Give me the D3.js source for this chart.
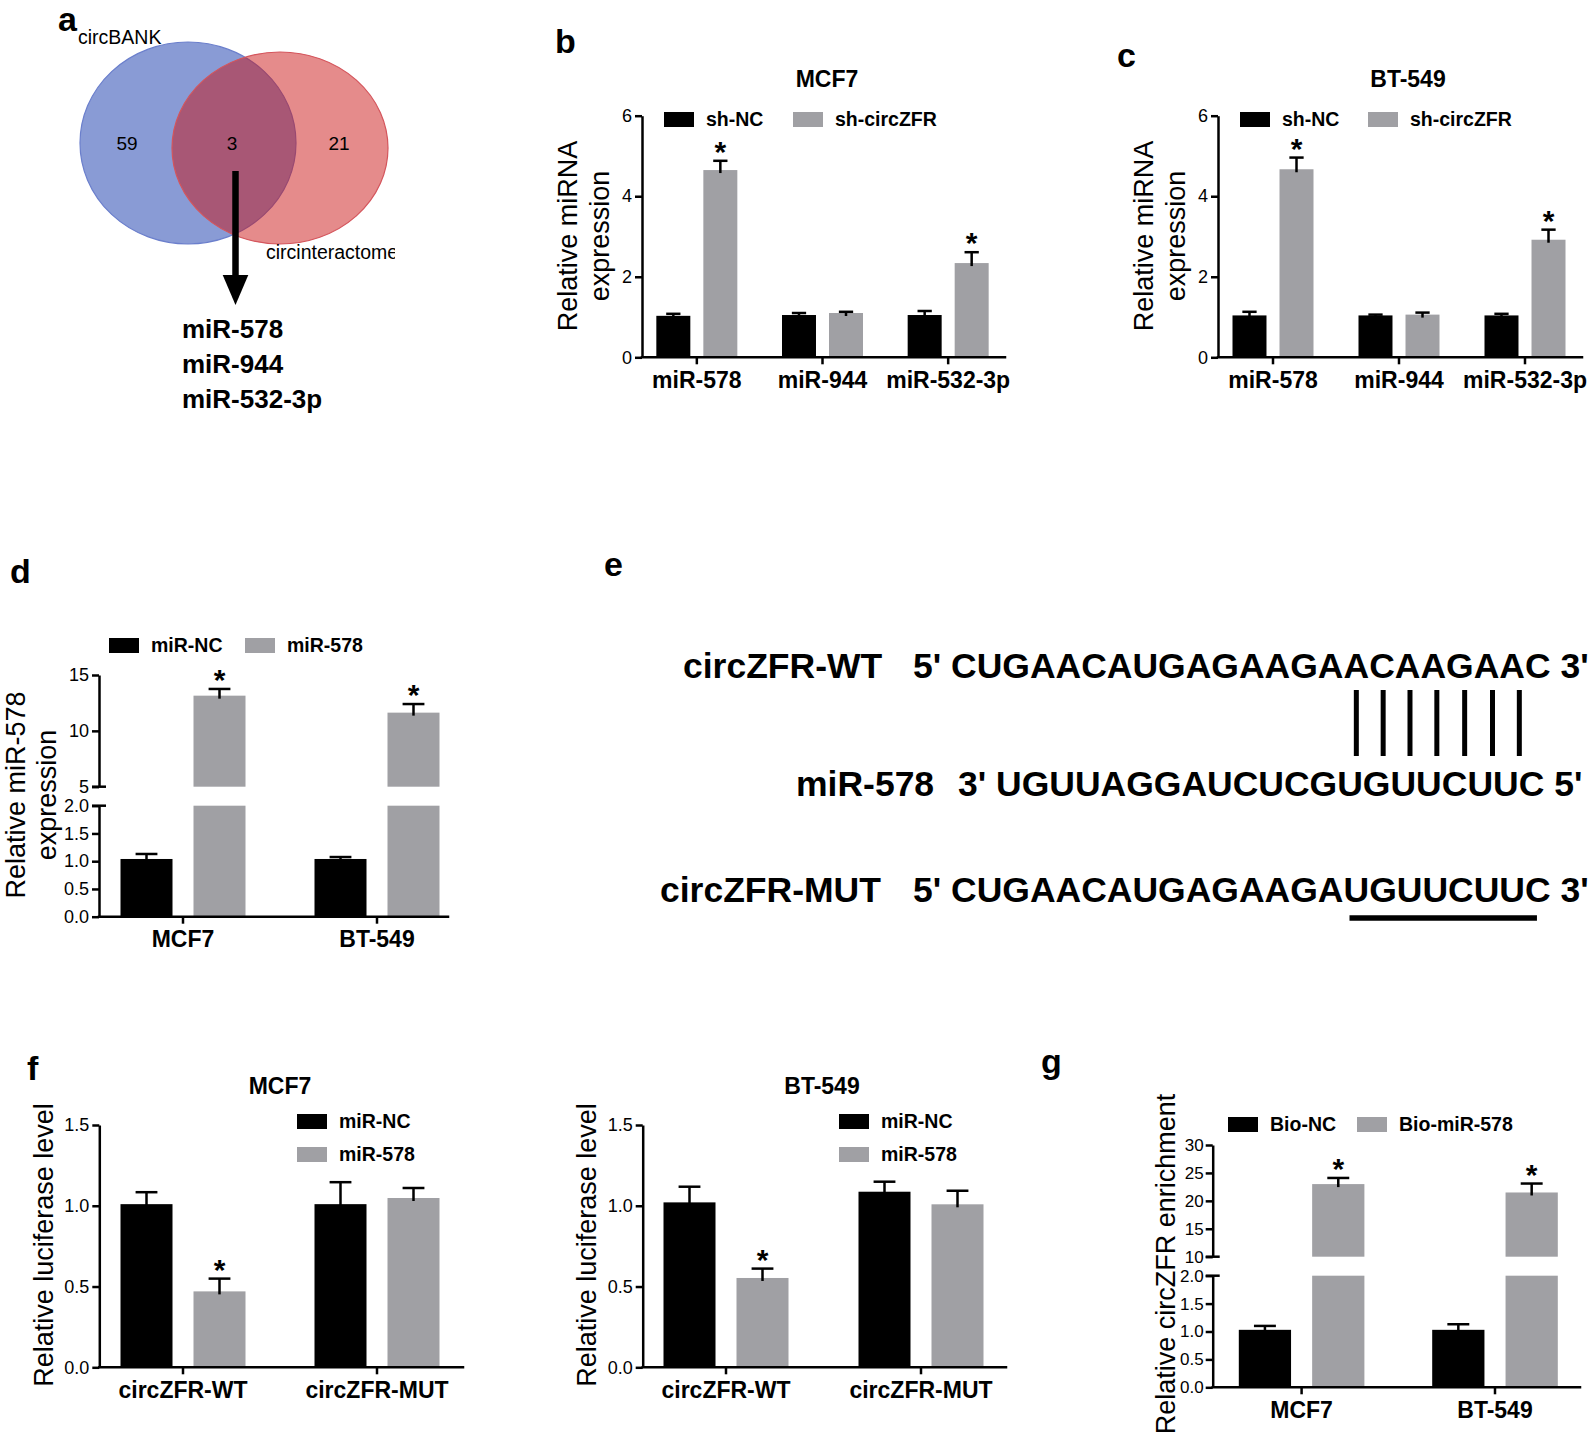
<!DOCTYPE html>
<html>
<head>
<meta charset="utf-8">
<script src="https://cdn.jsdelivr.net/npm/d3@7"></script>
<style>
  html, body { margin: 0; padding: 0; background: #fff; }
  svg text { font-family: "Liberation Sans", Arial, Helvetica, sans-serif; fill: #000; }
</style>
</head>
<body>
<svg id="fig" width="1594" height="1436" viewBox="0 0 1594 1436"></svg>
<script>
// ---------------- DATA ----------------
// Panel a (Venn)
const vennSets = ["circBANK", "circinteractome"];
const vennCounts = [59, 3, 21];
const overlapMiRNAs = ["miR-578", "miR-944", "miR-532-3p"];

// Panels b, c
const bcCategories = ["miR-578", "miR-944", "miR-532-3p"];
const bcSeries = ["sh-NC", "sh-circZFR"];
const bcTicks = [0, 2, 4, 6];
const bMcf7NC = [1.03, 1.05, 1.05];
const bMcf7NCErr = [0.05, 0.05, 0.10];
const bMcf7Sh = [4.65, 1.10, 2.34];
const bMcf7ShErr = [0.23, 0.03, 0.27];
const bMcf7Sig = [true, false, true];
const cBtNC = [1.04, 1.04, 1.04];
const cBtNCErr = [0.09, 0.02, 0.04];
const cBtSh = [4.67, 1.06, 2.92];
const cBtShErr = [0.29, 0.05, 0.25];
const cBtSig = [true, false, true];

// Panel d
const dCategories = ["MCF7", "BT-549"];
const dSeries = ["miR-NC", "miR-578"];
const dNC = [1.04, 1.04];
const dNCErr = [0.09, 0.035];
const dMiR = [13.15, 11.63];
const dMiRErr = [0.60, 0.77];
const dSig = [true, true];
const dLowerTicks = [0, 0.5, 1.0, 1.5, 2.0];
const dUpperTicks = [5, 10, 15];

// Panel e (sequences)
const eWTLabel = "circZFR-WT", eMiRLabel = "miR-578", eMUTLabel = "circZFR-MUT";
const eWT = "CUGAACAUGAGAAGAACAAGAAC";
const eMiR = "UGUUAGGAUCUCGUGUUCUUC";
const eMUT = "CUGAACAUGAGAAGAUGUUCUUC";
const ePairStart = 15;   // 0-based index into the circZFR sequence
const ePairCount = 7;

// Panel f
const fCategories = ["circZFR-WT", "circZFR-MUT"];
const fSeries = ["miR-NC", "miR-578"];
const fTicks = [0, 0.5, 1.0, 1.5];
const fMcf7NC = [1.01, 1.01];
const fMcf7NCErr = [0.074, 0.136];
const fMcf7MiR = [0.47, 1.048];
const fMcf7MiRErr = [0.079, 0.062];
const fMcf7Sig = [true, false];
const fBtNC = [1.021, 1.087];
const fBtNCErr = [0.097, 0.062];
const fBtMiR = [0.553, 1.009];
const fBtMiRErr = [0.058, 0.084];
const fBtSig = [true, false];

// Panel g
const gCategories = ["MCF7", "BT-549"];
const gSeries = ["Bio-NC", "Bio-miR-578"];
const gNC = [1.03, 1.03];
const gNCErr = [0.07, 0.10];
const gBio = [23.0, 21.5];
const gBioErr = [1.1, 1.6];
const gSig = [true, true];
const gLowerTicks = [0, 0.5, 1.0, 1.5, 2.0];
const gUpperTicks = [10, 15, 20, 25, 30];

// ---------------- DRAWING ----------------
const svg = d3.select("#fig");
const GRAY = "#a0a0a4";
const AXW = 2.5;

function panelLabel(t, x, y) {
  svg.append("text").attr("x", x).attr("y", y)
    .attr("font-size", 34).attr("font-weight", "bold").text(t);
}

function barChart(o) {
  const g = svg.append("g");
  const x0 = d3.scaleBand().domain(o.categories).range(o.bandRange).padding(0);
  const x1 = d3.scaleBand().domain(o.series).range([-o.groupHalf, o.groupHalf])
    .paddingInner(o.innerPad).paddingOuter(0);
  const color = d3.scaleOrdinal().domain(o.series).range(["#000000", GRAY]);
  const segs = o.segments.map(s => Object.assign({}, s, {
    y: d3.scaleLinear().domain(s.domain).range(s.range)
  }));
  const bw = x1.bandwidth();
  const capW = bw * 0.42;
  const tickFont = o.tickFont || 18;
  const segFor = v => segs.find(s => v >= s.domain[0] && v <= s.domain[1]) || segs[segs.length - 1];

  // bars
  o.series.forEach((ser, si) => {
    o.categories.forEach((cat, ci) => {
      const v = o.values[si][ci];
      const bx = x0(cat) + x0.bandwidth() / 2 + x1(ser);
      segs.forEach(s => {
        const lo = s.domain[0], hi = s.domain[1];
        if (v <= lo) return;
        const top = Math.min(v, hi);
        g.append("rect").attr("x", bx).attr("width", bw)
          .attr("y", s.y(top)).attr("height", s.y(lo) - s.y(top))
          .attr("fill", color(ser));
      });
    });
  });

  // error bars + significance
  o.series.forEach((ser, si) => {
    o.categories.forEach((cat, ci) => {
      const v = o.values[si][ci], e = o.errors[si][ci];
      const cx = x0(cat) + x0.bandwidth() / 2 + x1(ser) + bw / 2;
      const s = segFor(v);
      const yv = s.y(v), ye = s.y(v + e);
      g.append("line").attr("x1", cx).attr("x2", cx).attr("y1", yv + 3).attr("y2", ye)
        .attr("stroke", "#000").attr("stroke-width", AXW);
      g.append("line").attr("x1", cx - capW / 2).attr("x2", cx + capW / 2)
        .attr("y1", ye).attr("y2", ye)
        .attr("stroke", "#000").attr("stroke-width", AXW);
      if (si === 1 && o.sig[ci]) {
        g.append("text").attr("x", cx).attr("y", ye + 1).attr("text-anchor", "middle")
          .attr("font-size", 30).attr("font-weight", "bold").text("*");
      }
    });
  });

  // y axes
  segs.forEach(s => {
    const ax = d3.axisLeft(s.y).tickValues(s.ticks).tickFormat(d3.format(s.fmt))
      .tickSize(7).tickPadding(o.tickPad || 3).tickSizeOuter(0);
    const ag = g.append("g").attr("transform", `translate(${o.axisX0},0)`).call(ax);
    ag.select(".domain").attr("stroke", "#000").attr("stroke-width", AXW);
    ag.selectAll(".tick line").attr("stroke", "#000").attr("stroke-width", AXW);
    ag.selectAll(".tick text").attr("font-size", tickFont).attr("fill", "#000")
      .attr("font-family", "'Liberation Sans', Arial, sans-serif");
  });
  // break marks
  if (segs.length > 1) {
    [segs[0].range[1], segs[1].range[0]].forEach(yy => {
      g.append("line").attr("x1", o.axisX0 - 7).attr("x2", o.axisX0 + 7)
        .attr("y1", yy).attr("y2", yy).attr("stroke", "#000").attr("stroke-width", AXW);
    });
  }

  // x axis
  const yb = segs[0].range[0];
  g.append("line").attr("x1", o.axisX0).attr("x2", o.axisX1).attr("y1", yb).attr("y2", yb)
    .attr("stroke", "#000").attr("stroke-width", AXW).attr("stroke-linecap", "square");
  const xg = g.append("g").attr("transform", `translate(0,${yb})`)
    .call(d3.axisBottom(x0).tickSize(7).tickPadding(7).tickSizeOuter(0));
  xg.select(".domain").remove();
  xg.selectAll(".tick line").attr("stroke", "#000").attr("stroke-width", AXW);
  xg.selectAll(".tick text").attr("font-size", 23).attr("font-weight", "bold").attr("fill", "#000")
    .attr("font-family", "'Liberation Sans', Arial, sans-serif");

  // legend
  o.series.forEach((ser, si) => {
    const p = o.legend[si];
    g.append("rect").attr("x", p[0]).attr("y", p[1]).attr("width", 30).attr("height", 15)
      .attr("fill", color(ser));
    g.append("text").attr("x", p[0] + 42).attr("y", p[1] + 14)
      .attr("font-size", 19.5).attr("font-weight", "bold").text(ser);
  });

  // title
  if (o.title) {
    g.append("text").attr("x", o.title[1]).attr("y", o.title[2]).attr("text-anchor", "middle")
      .attr("font-size", 23).attr("font-weight", "bold").text(o.title[0]);
  }
  // y label
  o.ylabel.forEach((t, i) => {
    g.append("text").attr("transform", `translate(${o.ylabelX[i]},${o.ylabelY}) rotate(-90)`)
      .attr("text-anchor", "middle").attr("font-size", 27).text(t);
  });
}

// ---- Panel a: Venn ----
panelLabel("a", 58, 31);
svg.append("defs").append("clipPath").attr("id", "vennClip")
  .append("rect").attr("x", 0).attr("y", 0).attr("width", 395).attr("height", 300);
const venn = svg.append("g");
venn.append("ellipse").attr("cx", 188).attr("cy", 143).attr("rx", 108).attr("ry", 101)
  .attr("fill", "#899bd5").attr("stroke", "#6b7fcc").attr("stroke-width", 1.2);
venn.append("ellipse").attr("cx", 280).attr("cy", 148).attr("rx", 108).attr("ry", 96)
  .attr("fill", "rgb(202,17,17)").attr("fill-opacity", 0.487)
  .attr("stroke", "#d4555c").attr("stroke-width", 1.2);
const vennNumX = [127, 232, 339];
vennCounts.forEach((c, i) => {
  venn.append("text").attr("x", vennNumX[i]).attr("y", 150).attr("text-anchor", "middle")
    .attr("font-size", 19).text(c);
});
venn.append("text").attr("x", 78).attr("y", 44).attr("font-size", 19.5).text(vennSets[0]);
venn.append("text").attr("x", 266).attr("y", 259).attr("font-size", 19.5)
  .attr("clip-path", "url(#vennClip)").text(vennSets[1]);
svg.append("line").attr("x1", 235.5).attr("x2", 235.5).attr("y1", 171).attr("y2", 277)
  .attr("stroke", "#000").attr("stroke-width", 6.5);
svg.append("path").attr("d", "M222.7,275 L248.3,275 L235.5,305 Z").attr("fill", "#000");
overlapMiRNAs.forEach((m, i) => {
  svg.append("text").attr("x", 182).attr("y", 338 + i * 35)
    .attr("font-size", 26).attr("font-weight", "bold").text(m);
});

// ---- Panel b ----
panelLabel("b", 555, 53);
barChart({
  categories: bcCategories, series: bcSeries,
  values: [bMcf7NC, bMcf7Sh], errors: [bMcf7NCErr, bMcf7ShErr], sig: bMcf7Sig,
  bandRange: [634, 1011], groupHalf: 40.5, innerPad: 0.277,
  axisX0: 642, axisX1: 1005,
  segments: [{ domain: [0, 6], range: [357.3, 115.7], ticks: bcTicks, fmt: "d" }],
  legend: [[664, 112], [793, 112]],
  title: ["MCF7", 827, 87],
  ylabel: ["Relative miRNA", "expression"], ylabelX: [577, 609], ylabelY: 236
});

// ---- Panel c ----
panelLabel("c", 1117, 67);
barChart({
  categories: bcCategories, series: bcSeries,
  values: [cBtNC, cBtSh], errors: [cBtNCErr, cBtShErr], sig: cBtSig,
  bandRange: [1210, 1588], groupHalf: 40.5, innerPad: 0.277,
  axisX0: 1218, axisX1: 1582,
  segments: [{ domain: [0, 6], range: [357.3, 115.7], ticks: bcTicks, fmt: "d" }],
  legend: [[1240, 112], [1368, 112]],
  title: ["BT-549", 1408, 87],
  ylabel: ["Relative miRNA", "expression"], ylabelX: [1153, 1185], ylabelY: 236
});

// ---- Panel d ----
panelLabel("d", 10, 583);
barChart({
  categories: dCategories, series: dSeries,
  values: [dNC, dMiR], errors: [dNCErr, dMiRErr], sig: dSig,
  bandRange: [86, 474], groupHalf: 62.5, innerPad: 0.2877,
  axisX0: 99, axisX1: 448,
  segments: [
    { domain: [0, 2], range: [916.7, 805.7], ticks: dLowerTicks, fmt: ".1f" },
    { domain: [5, 15], range: [786.7, 675], ticks: dUpperTicks, fmt: "d" }
  ],
  legend: [[109, 638], [245, 638]],
  title: null,
  ylabel: ["Relative miR-578", "expression"], ylabelX: [25, 56], ylabelY: 795
});

// ---- Panel e ----
panelLabel("e", 604, 576);
const eFont = 35.5;
function eText(t, x, y) {
  return svg.append("text").attr("x", x).attr("y", y).attr("font-size", eFont)
    .attr("font-weight", "bold").attr("xml:space", "preserve").text(t);
}
eText(eWTLabel, 683, 678);
const wtSeq = eText("5' " + eWT + " 3'", 913, 678);
eText(eMiRLabel, 796, 796);
eText("3' " + eMiR + " 5'", 958, 796);
eText(eMUTLabel, 660, 902);
const mutSeq = eText("5' " + eMUT + " 3'", 913, 902);
const pre = 3;
const wtNode = wtSeq.node();
d3.range(ePairCount).forEach(k => {
  const idx = pre + ePairStart + k;
  const a = wtNode.getStartPositionOfChar(idx).x, b = wtNode.getEndPositionOfChar(idx).x;
  const cx = (a + b) / 2 + k * 1.2;
  svg.append("line").attr("x1", cx).attr("x2", cx).attr("y1", 690).attr("y2", 756)
    .attr("stroke", "#000").attr("stroke-width", 5);
});
const mutNode = mutSeq.node();
const uStart = mutNode.getStartPositionOfChar(pre + ePairStart).x + 6;
const uEnd = mutNode.getEndPositionOfChar(pre + ePairStart + ePairCount - 1).x + 12;
svg.append("line").attr("x1", uStart).attr("x2", uEnd).attr("y1", 918).attr("y2", 918)
  .attr("stroke", "#000").attr("stroke-width", 5.5);

// ---- Panel f (MCF7) ----
panelLabel("f", 27, 1080);
barChart({
  categories: fCategories, series: fSeries,
  values: [fMcf7NC, fMcf7MiR], errors: [fMcf7NCErr, fMcf7MiRErr], sig: fMcf7Sig,
  bandRange: [86, 474], groupHalf: 62.5, innerPad: 0.2877,
  axisX0: 99.3, axisX1: 463,
  segments: [{ domain: [0, 1.5], range: [1367.3, 1125], ticks: fTicks, fmt: ".1f" }],
  legend: [[297, 1114], [297, 1147]],
  title: ["MCF7", 280, 1094],
  ylabel: ["Relative luciferase level"], ylabelX: [53], ylabelY: 1245
});

// ---- Panel f (BT-549) ----
barChart({
  categories: fCategories, series: fSeries,
  values: [fBtNC, fBtMiR], errors: [fBtNCErr, fBtMiRErr], sig: fBtSig,
  bandRange: [628.5, 1018.5], groupHalf: 62.5, innerPad: 0.2877,
  axisX0: 642.7, axisX1: 1006,
  segments: [{ domain: [0, 1.5], range: [1367.3, 1125], ticks: fTicks, fmt: ".1f" }],
  legend: [[839, 1114], [839, 1147]],
  title: ["BT-549", 822, 1094],
  ylabel: ["Relative luciferase level"], ylabelX: [596], ylabelY: 1245
});

// ---- Panel g ----
panelLabel("g", 1041, 1073);
barChart({
  categories: gCategories, series: gSeries,
  values: [gNC, gBio], errors: [gNCErr, gBioErr], sig: gSig,
  bandRange: [1204.9, 1591.7], groupHalf: 62.8, innerPad: 0.2877,
  axisX0: 1212.7, axisX1: 1580,
  tickFont: 17, tickPad: 2,
  segments: [
    { domain: [0, 2], range: [1387.3, 1275.7], ticks: gLowerTicks, fmt: ".1f" },
    { domain: [10, 30], range: [1256.7, 1145], ticks: gUpperTicks, fmt: "d" }
  ],
  legend: [[1228, 1117], [1357, 1117]],
  title: null,
  ylabel: ["Relative circZFR enrichment"], ylabelX: [1175], ylabelY: 1264
});
</script>
</body>
</html>
